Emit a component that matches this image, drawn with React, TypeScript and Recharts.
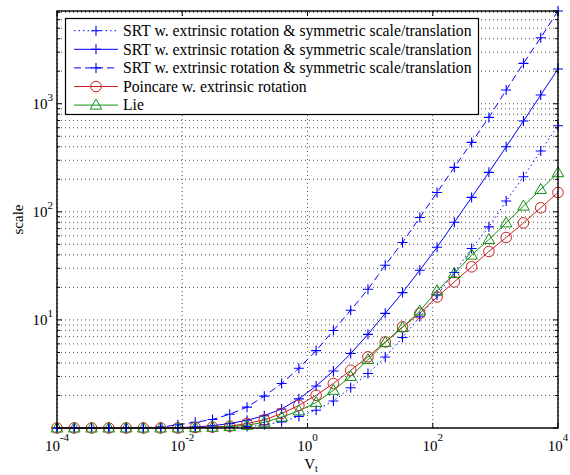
import React from 'react';
import { LineChart, Line, XAxis, YAxis, CartesianGrid } from 'recharts';

// V_t sample positions (x)
const vt = [0.0001, 0.00018874, 0.00035622, 0.00067234, 0.001269, 0.002395, 0.0045204, 0.0085317, 0.016103, 0.030392,
  0.057362, 0.10826, 0.20433, 0.38566, 0.7279, 1.3738, 2.5929, 4.8939, 9.2367, 17.433,
  32.903, 62.101, 117.21, 221.22, 417.53, 788.04, 1487.3, 2807.2, 5298.3, 10000];

const srtDotted = [1, 1, 1, 1, 1, 1, 1, 1, 1.005, 1.008,
  1.012, 1.03, 1.07, 1.14, 1.28, 1.46, 1.78, 2.36, 3.19, 4.54,
  6.87, 10.7, 17, 27.5, 45.8, 72.6, 126, 211, 365, 626];
const srtSolid = [1, 1, 1, 1, 1, 1, 1.005, 1.01, 1.02, 1.05,
  1.1, 1.18, 1.3, 1.5, 1.86, 2.45, 3.37, 4.89, 7.35, 11.5,
  17.9, 28.8, 47, 80, 136, 232, 400, 692, 1205, 2096];
const srtDashed = [1, 1, 1, 1.003, 1.006, 1.01, 1.02, 1.07, 1.13, 1.2,
  1.34, 1.56, 1.97, 2.58, 3.57, 5.2, 7.98, 12.3, 19.2, 32.1,
  52.1, 88.7, 151, 258, 439, 748, 1339, 2366, 4083, 7215];
const poincare = [1, 1, 1, 1, 1, 1, 1, 1, 1.01, 1.02,
  1.04, 1.1, 1.19, 1.36, 1.62, 2.01, 2.58, 3.42, 4.55, 6.25,
  8.61, 11.5, 16.3, 22.5, 31, 43, 57.9, 79, 109, 151];
const lie = [1, 1, 1, 1, 1, 1, 1, 1, 1.005, 1.015,
  1.03, 1.06, 1.13, 1.26, 1.44, 1.72, 2.23, 3.0, 4.3, 6.2,
  8.5, 12.1, 18.6, 26.9, 39.8, 55.5, 79, 113, 161, 230];

const xTicks = [1e-4, 1e-2, 1, 1e2, 1e4];
const xTickExp = ['-4', '-2', '0', '2', '4'];
const yMajor = [10, 100, 1000];
const yMajorExp = ['1', '2', '3'];
const yTicks = [1, 2, 3, 4, 5, 6, 7, 8, 9, 10, 20, 30, 40, 50, 60, 70, 80, 90,
  100, 200, 300, 400, 500, 600, 700, 800, 900, 1000, 2000, 3000, 4000, 5000, 6000, 7000];

const legendLabels = [
  'SRT w. extrinsic rotation & symmetric scale/translation',
  'SRT w. extrinsic rotation & symmetric scale/translation',
  'SRT w. extrinsic rotation & symmetric scale/translation',
  'Poincare w. extrinsic rotation',
  'Lie',
];

const data = vt.map((x, i) => ({
  x,
  a: srtDotted[i],
  b: srtSolid[i],
  c: srtDashed[i],
  p: poincare[i],
  l: lie[i],
}));

const W = 570;
const H = 475;
const LEFT = 57;
const RIGHT = 558;
const TOP = 11;
const BOTTOM = 428;
const FONT = '"Liberation Serif", "Times New Roman", serif';
const BLUE = '#0000ff';
const RED = '#cc2020';
const GREEN = '#119011';

const plusShape = (cx: number, cy: number, color: string, key?: string) => (
  <path key={key} d={`M${cx - 5},${cy}H${cx + 5}M${cx},${cy - 5}V${cy + 5}`} stroke={color} strokeWidth={1.1} fill="none" />
);
const circleShape = (cx: number, cy: number, color: string, key?: string) => (
  <circle key={key} cx={cx} cy={cy} r={5.3} stroke={color} strokeWidth={1} fill="none" />
);
const triShape = (cx: number, cy: number, color: string, key?: string) => (
  <path key={key} d={`M${cx},${cy - 6}L${cx + 5.8},${cy + 4}L${cx - 5.8},${cy + 4}Z`} stroke={color} strokeWidth={1} fill="none" />
);

const makeDot = (shape: typeof plusShape, color: string, name: string) => (props: any) => {
  const { cx, cy, index } = props;
  if (cx == null || cy == null) return <g key={`${name}${index}`} />;
  return shape(cx, cy, color, `${name}${index}`);
};

const YTick = (props: any) => {
  const { x, y, payload } = props;
  const v = payload.value;
  const mi = yMajor.indexOf(v);
  const major = mi >= 0 || v === 1;
  const len = major ? 5 : 3;
  const pw = RIGHT - LEFT;
  return (
    <g>
      <line x1={x} x2={x + len} y1={y} y2={y} stroke="#000" strokeWidth={1} />
      <line x1={x + pw - len} x2={x + pw} y1={y} y2={y} stroke="#000" strokeWidth={1} />
      {mi >= 0 && (
        <text x={x - 4} y={y + 5} textAnchor="end" fontFamily={FONT} fontSize={15} fill="#000">
          10<tspan dy={-8} fontSize={11}>{yMajorExp[mi]}</tspan>
        </text>
      )}
    </g>
  );
};

const XTick = (props: any) => {
  const { x, y, payload } = props;
  const i = xTicks.indexOf(payload.value);
  const ph = BOTTOM - TOP;
  return (
    <g>
      <line x1={x} x2={x} y1={y} y2={y - 5} stroke="#000" strokeWidth={1} />
      <line x1={x} x2={x} y1={y - ph} y2={y - ph + 5} stroke="#000" strokeWidth={1} />
      {i >= 0 && (
        <text x={x} y={y + 23} textAnchor="middle" fontFamily={FONT} fontSize={15} fill="#000">
          10<tspan dy={-10} fontSize={11}>{xTickExp[i]}</tspan>
        </text>
      )}
    </g>
  );
};

const legendStyles = [
  { color: BLUE, dash: '1.5 3', shape: plusShape },
  { color: BLUE, dash: undefined, shape: plusShape },
  { color: BLUE, dash: '7 4', shape: plusShape },
  { color: RED, dash: undefined, shape: circleShape },
  { color: GREEN, dash: undefined, shape: triShape },
];

export default function App() {
  return (
    <div style={{ position: 'absolute', left: 0, top: 0, width: W, height: H, background: '#fff' }}>
      <LineChart
        width={W}
        height={H}
        data={data}
        margin={{ top: TOP, right: W - RIGHT, bottom: 0, left: 0 }}
        style={{ position: 'absolute', left: 0, top: 0 }}
      >
        <CartesianGrid stroke="#555" strokeWidth={1} strokeDasharray="1 3" />
        <XAxis
          dataKey="x"
          type="number"
          scale="log"
          domain={[1e-4, 1e4]}
          ticks={xTicks}
          interval={0}
          height={H - BOTTOM}
          tickSize={0}
          tickMargin={0}
          axisLine={false}
          tickLine={false}
          tick={<XTick />}
        />
        <YAxis
          type="number"
          scale="log"
          domain={[1, 7215]}
          ticks={yTicks}
          interval={0}
          width={LEFT}
          tickSize={0}
          tickMargin={0}
          axisLine={false}
          tickLine={false}
          tick={<YTick />}
        />
        <Line type="linear" dataKey="a" stroke={BLUE} strokeWidth={1} strokeDasharray="1.5 3" dot={makeDot(plusShape, BLUE, 'a')} activeDot={false} isAnimationActive={false} />
        <Line type="linear" dataKey="b" stroke={BLUE} strokeWidth={1} dot={makeDot(plusShape, BLUE, 'b')} activeDot={false} isAnimationActive={false} />
        <Line type="linear" dataKey="c" stroke={BLUE} strokeWidth={1} strokeDasharray="7 4" dot={makeDot(plusShape, BLUE, 'c')} activeDot={false} isAnimationActive={false} />
        <Line type="linear" dataKey="p" stroke={RED} strokeWidth={1} dot={makeDot(circleShape, RED, 'p')} activeDot={false} isAnimationActive={false} />
        <Line type="linear" dataKey="l" stroke={GREEN} strokeWidth={1} dot={makeDot(triShape, GREEN, 'l')} activeDot={false} isAnimationActive={false} />
      </LineChart>
      <svg width={W} height={H} style={{ position: 'absolute', left: 0, top: 0, pointerEvents: 'none' }}>
        <rect x={LEFT} y={TOP} width={RIGHT - LEFT} height={BOTTOM - TOP} fill="none" stroke="#000" strokeWidth={1.4} />
        <rect x={65.5} y={18.5} width={413} height={96} fill="#fff" stroke="#000" strokeWidth={1.2} />
        {legendLabels.map((lab, i) => {
          const ry = 30.7 + i * 18.6;
          const st = legendStyles[i];
          return (
            <g key={i}>
              <line x1={74} x2={118} y1={ry} y2={ry} stroke={st.color} strokeWidth={1} strokeDasharray={st.dash} />
              {st.shape(96, ry, st.color)}
              <text x={123} y={ry + 5.3} fontFamily={FONT} fontSize={15.7} fill="#000">{lab}</text>
            </g>
          );
        })}
        <text x={23} y={(TOP + BOTTOM) / 2} transform={`rotate(-90 23 ${(TOP + BOTTOM) / 2})`} textAnchor="middle" fontFamily={FONT} fontSize={15} fill="#000">scale</text>
        <text x={311} y={469} textAnchor="middle" fontFamily={FONT} fontSize={15} fill="#000">
          V<tspan dy={3} fontSize={10}>t</tspan>
        </text>
      </svg>
    </div>
  );
}
